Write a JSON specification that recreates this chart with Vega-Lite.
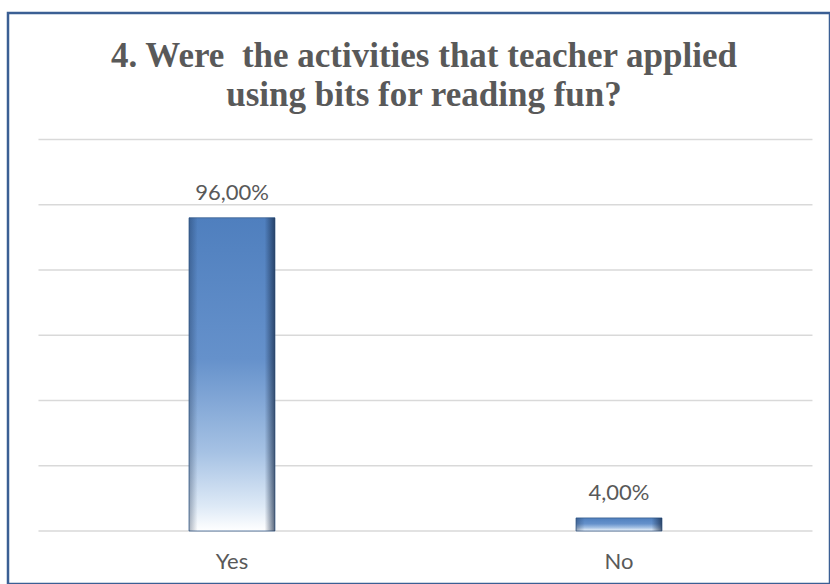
{
  "$schema": "https://vega.github.io/schema/vega-lite/v6.json",
  "width": 822,
  "height": 571,
  "autosize": {"type": "none"},
  "padding": {"left": 8, "top": 13, "right": 0, "bottom": 0},
  "background": "white",
  "config": {
    "view": {"stroke": "#3b5f94", "strokeWidth": 2.5},
    "locale": {"number": {"decimal": ",", "thousands": ".", "grouping": [3], "currency": ["", " €"]}}
  },
  "title": {
    "text": ["4. Were\u00a0 the activities that teacher applied", "using bits for reading fun?"],
    "font": "Liberation Serif",
    "fontSize": 35,
    "fontWeight": "bold",
    "color": "#595959",
    "anchor": "middle",
    "frame": "group",
    "baseline": "top",
    "offset": -100,
    "dx": 5,
    "lineHeight": 39
  },
  "datasets": {
    "answers": [
      {"answer": "Yes", "share": 0.96},
      {"answer": "No", "share": 0.04}
    ],
    "grid": [
      {"v": 0}, {"v": 0.2}, {"v": 0.4}, {"v": 0.6}, {"v": 0.8}, {"v": 1.0}, {"v": 1.2}
    ]
  },
  "layer": [
    {
      "data": {"name": "grid"},
      "mark": {"type": "rule", "color": "#d9d9d9", "strokeWidth": 1.3},
      "encoding": {
        "y": {"field": "v", "type": "quantitative", "scale": {"domain": [-0.1625, 1.5877], "nice": false, "zero": false}, "axis": null},
        "x": {"datum": "Yes", "type": "nominal", "bandPosition": 0, "axis": null,
              "scale": {"domain": ["Yes", "No"], "paddingInner": 0, "paddingOuter": 0.062, "align": 0.635}},
        "x2": {"datum": "No", "bandPosition": 1}
      }
    },
    {
      "data": {"name": "answers"},
      "mark": {
        "type": "bar",
        "width": {"band": 0.222},
        "fill": {
          "gradient": "linear", "x1": 0, "y1": 0, "x2": 0, "y2": 1,
          "stops": [
            {"offset": 0, "color": "#4f7fbe"},
            {"offset": 0.45, "color": "#6591cb"},
            {"offset": 0.75, "color": "#a6c2e4"},
            {"offset": 0.92, "color": "#dde9f6"},
            {"offset": 1, "color": "#ffffff"}
          ]
        },
        "stroke": "#3a6191",
        "strokeWidth": 0.8
      },
      "encoding": {
        "x": {"field": "answer", "type": "nominal", "axis": null,
              "scale": {"domain": ["Yes", "No"], "paddingInner": 0, "paddingOuter": 0.062, "align": 0.635}},
        "y": {"field": "share", "type": "quantitative", "scale": {"domain": [-0.1625, 1.5877], "nice": false, "zero": false}, "axis": null},
        "y2": {"datum": 0}
      }
    },
    {
      "data": {"name": "answers"},
      "mark": {
        "type": "bar",
        "width": {"band": 0.222},
        "fill": {
          "gradient": "linear", "x1": 0, "y1": 0, "x2": 1, "y2": 0,
          "stops": [
            {"offset": 0, "color": "rgba(20,40,70,0.35)"},
            {"offset": 0.1, "color": "rgba(20,40,70,0)"},
            {"offset": 0.88, "color": "rgba(20,40,70,0)"},
            {"offset": 1, "color": "rgba(20,40,70,0.7)"}
          ]
        }
      },
      "encoding": {
        "x": {"field": "answer", "type": "nominal"},
        "y": {"field": "share", "type": "quantitative"},
        "y2": {"datum": 0}
      }
    },
    {
      "data": {"name": "answers"},
      "mark": {"type": "text", "font": "Lato", "fontSize": 22, "color": "#595959", "baseline": "alphabetic", "dy": -18},
      "encoding": {
        "x": {"field": "answer", "type": "nominal"},
        "y": {"field": "share", "type": "quantitative"},
        "text": {"field": "share", "type": "quantitative", "format": ".2%"}
      }
    },
    {
      "data": {"name": "answers"},
      "mark": {"type": "text", "font": "Lato", "fontSize": 22, "color": "#595959", "baseline": "alphabetic", "dy": 38},
      "encoding": {
        "x": {"field": "answer", "type": "nominal"},
        "y": {"datum": 0, "type": "quantitative"},
        "text": {"field": "answer", "type": "nominal"}
      }
    }
  ]
}
